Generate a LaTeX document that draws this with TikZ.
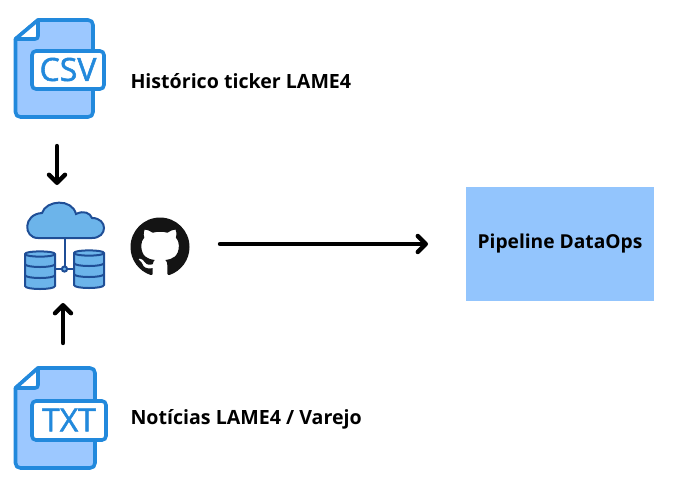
\documentclass[tikz,border=0pt]{standalone}
\usepackage{fontspec}
\setmainfont{Open Sans}
\newfontfamily\tagfont[FakeBold=1.6]{Open Sans}
\usetikzlibrary{arrows.meta,svg.path}

\definecolor{fileblue}{HTML}{2289DC}
\definecolor{filefill}{HTML}{9CC8FF}
\definecolor{boxfill}{HTML}{93C5FD}
\definecolor{dbline}{HTML}{1F4E96}
\definecolor{dbfill}{HTML}{6CB4EA}

\tikzset{
	every picture/.style={line width=0.75pt},
	fileshape/.style={draw=fileblue, fill=filefill, line width=2.7pt, line join=round},
	filefold/.style={draw=fileblue, fill=white, line width=2.7pt, line join=round},
	filetag/.style={draw=fileblue, fill=white, line width=2.7pt, rounded corners=3pt},
	tagtext/.style={text=fileblue, font=\fontsize{24}{24}\selectfont\tagfont},
	dbshape/.style={draw=dbline, fill=dbfill, line width=1.5pt},
	bigarrow/.style={draw=black, line width=3.3pt, line cap=round, -{Straight Barb[length=6pt,width=12pt,line width=3.3pt,round]}},
	boldlabel/.style={anchor=west, inner sep=0pt, font=\fontsize{14.7}{18}\selectfont\bfseries}
}

\begin{document}
\begin{tikzpicture}[x=0.75pt,y=0.75pt,yscale=-1,xscale=1]
	\useasboundingbox (0,0) rectangle (673,490);

	%CSV file
	\draw [fileshape] (38,20) -- (88,20) .. controls (91,20) and (93,22) .. (93,25) -- (93,112) .. controls (93,115) and (91,117) .. (88,117) -- (20.5,117) .. controls (17.5,117) and (15.5,115) .. (15.5,112) -- (15.5,39) -- cycle ;
	\draw [filefold] (38,20) -- (38,36) .. controls (38,38) and (37,39) .. (35,39) -- (15.5,39) -- cycle ;
	\node [filetag, minimum width=72pt*0.75, minimum height=38pt*0.75] (csvtag) at (68,70) {};
	\node [tagtext] at (68,69.5) {CSV};

	%TXT file
	\draw [fileshape] (38,368) -- (90,368) .. controls (93,368) and (95,370) .. (95,373) -- (95,463) .. controls (95,466) and (93,468) .. (90,468) -- (20.5,468) .. controls (17.5,468) and (15.5,466) .. (15.5,463) -- (15.5,388) -- cycle ;
	\draw [filefold] (38,368) -- (38,385) .. controls (38,387) and (37,388) .. (35,388) -- (15.5,388) -- cycle ;
	\node [filetag, minimum width=74pt*0.75, minimum height=39pt*0.75] (txttag) at (69,420.5) {};
	\node [tagtext] at (69,420) {TXT};

	%Cloud
	\draw [dbline, line width=1.5pt] (64.5,238) -- (64.5,269) ;
	\draw [dbshape] (38,238) .. controls (23,238) and (23,214) .. (42,213) .. controls (46,200) and (72,198) .. (76,214) .. controls (84,210) and (90,213) .. (92,218) .. controls (108,218) and (108,238) .. (92,238) -- cycle ;

	%Left cylinder
	\draw [dbshape] (25,254) .. controls (25,250.5) and (55,250.5) .. (55,254) -- (55,286) .. controls (55,290) and (25,290) .. (25,286) -- cycle ;
	\draw [dbline, line width=1.5pt] (25,254) .. controls (25,257.5) and (55,257.5) .. (55,254) ;
	\draw [dbline, line width=1.5pt] (25,264) .. controls (25,268) and (55,268) .. (55,264) ;
	\draw [dbline, line width=1.5pt] (25,275) .. controls (25,279) and (55,279) .. (55,275) ;

	%Right cylinder
	\draw [dbshape] (74,253) .. controls (74,249.5) and (104,249.5) .. (104,253) -- (104,285) .. controls (104,289) and (74,289) .. (74,285) -- cycle ;
	\draw [dbline, line width=1.5pt] (74,253) .. controls (74,256.5) and (104,256.5) .. (104,253) ;
	\draw [dbline, line width=1.5pt] (74,263) .. controls (74,267) and (104,267) .. (104,263) ;
	\draw [dbline, line width=1.5pt] (74,274) .. controls (74,278) and (104,278) .. (104,274) ;

	%Junction
	\draw [dbline, line width=1.5pt] (55,269) -- (74,269) ;
	\draw [dbshape] (64.5,269) circle [radius=2.6] ;

	%GitHub mark
	\fill [black!92, shift={(130.5,217.5)}] svg [scale=2.766] {M 8 0 C 3.58 0 0 3.58 0 8 c 0 3.54 2.29 6.53 5.47 7.59 .4 .07 .55 -.17 .55 -.38 0 -.19 -.01 -.82 -.01 -1.49 -2.01 .37 -2.53 -.49 -2.69 -.94 -.09 -.23 -.48 -.94 -.82 -1.13 -.28 -.15 -.68 -.52 -.01 -.53 .63 -.01 1.08 .58 1.23 .82 .72 1.21 1.87 .87 2.33 .66 .07 -.52 .28 -.87 .51 -1.07 -1.78 -.2 -3.64 -.89 -3.64 -3.95 0 -.87 .31 -1.59 .82 -2.15 -.08 -.2 -.36 -1.02 .08 -2.12 0 0 .67 -.21 2.2 .82 .64 -.18 1.32 -.27 2 -.27 .68 0 1.36 .09 2 .27 1.53 -1.04 2.2 -.82 2.2 -.82 .44 1.1 .16 1.92 .08 2.12 .51 .56 .82 1.27 .82 2.15 0 3.07 -1.87 3.75 -3.65 3.95 .29 .25 .54 .73 .54 1.48 0 1.07 -.01 1.93 -.01 2.2 0 .21 .15 .46 .55 .38 C 13.71 14.53 16 11.53 16 8 c 0 -4.42 -3.58 -8 -8 -8 z} ;

	%Pipeline box
	\node [fill=boxfill, text=black, inner sep=0pt, minimum width=188*0.75pt, minimum height=114*0.75pt, font=\fontsize{14.4}{18}\selectfont\bfseries] (pipeline) at (560,244) {Pipeline DataOps};

	% Arrow ends
	\coordinate (csvend) at (57,146) ;
	\coordinate (dbtop) at (57,185) ;
	\coordinate (txtend) at (63,343) ;
	\coordinate (dbbottom) at (63,303) ;
	\coordinate (gitend) at (220,244) ;
	\coordinate (pipein) at (428,244) ;
	\draw [bigarrow] (csvend) -- (dbtop) ;
	\draw [bigarrow] (txtend) -- (dbbottom) ;
	\draw [bigarrow] (gitend) -- (pipein) ;

	% Text Node
	\node [boldlabel] (csvlabel) at (130,81) {Histórico ticker LAME4};
	% Text Node
	\node [boldlabel] (txtlabel) at (130,419) {Notícias LAME4 / Varejo};
\end{tikzpicture}
\end{document}
